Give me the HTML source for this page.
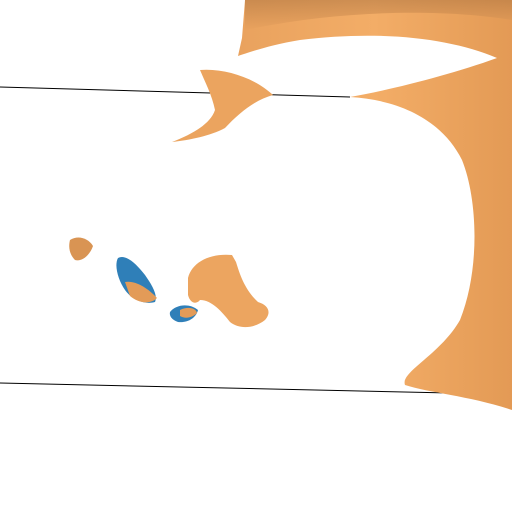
<!DOCTYPE html>
<html><head><meta charset="utf-8"><style>
html,body{margin:0;padding:0;background:#fff;width:512px;height:512px;overflow:hidden}
</style></head><body>
<svg width="512" height="512" viewBox="0 0 512 512">
<defs>
<linearGradient id="g1" x1="0" y1="0" x2="1" y2="0">
<stop offset="0" stop-color="#e9a25e"/><stop offset="0.5" stop-color="#f3ad67"/><stop offset="1" stop-color="#e39a55"/>
</linearGradient>
<linearGradient id="g2" x1="0" y1="0" x2="0" y2="1">
<stop offset="0" stop-color="#b57a44"/><stop offset="1" stop-color="#e9a25e"/>
</linearGradient>
</defs>
<line x1="0" y1="87" x2="350" y2="97" stroke="#000" stroke-width="1"/>
<line x1="0" y1="383" x2="450" y2="393" stroke="#000" stroke-width="1"/>
<path fill="url(#g1)" d="M245,0 L512,0 L512,410 C470,396 430,393 405,385 C400,372 440,355 460,320 C480,270 478,200 462,160 C442,120 400,100 350,97 C390,90 450,75 497,58 C450,38 380,30 300,40 C270,45 250,52 238,56 L242,38 Z"/>
<path fill="url(#g2)" opacity="0.6" d="M245,0 L512,0 L512,20 C450,10 350,8 245,30 Z"/>
<path fill="#eba45f" d="M200,70 C225,68 255,78 273,95 C255,100 240,112 225,128 C210,136 190,140 172,142 C190,135 210,125 215,110 C212,95 205,82 200,70 Z"/>
<path fill="#eca560" d="M188,278 C192,262 210,253 232,255 L236,262 C240,275 245,290 258,302 C268,305 272,312 265,320 C255,328 240,330 230,322 C222,312 212,300 200,300 C196,305 190,303 188,295 Z"/>
<path fill="#d99453" d="M70,240 C78,235 88,238 93,246 C90,255 82,262 75,260 C70,255 68,248 70,240 Z"/>
<path fill="#2f7fb8" d="M118,258 C125,254 135,262 145,275 C152,285 158,295 155,302 C145,305 132,300 125,290 C118,280 114,265 118,258 Z"/>
<path fill="#e39b58" d="M125,282 C135,280 148,288 157,298 C150,305 138,303 130,296 Z"/>
<path fill="#2f7fb8" d="M170,312 C176,304 190,303 198,310 C196,318 188,323 178,322 C172,320 169,316 170,312 Z"/>
<path fill="#e39b58" d="M180,310 C188,306 196,308 197,313 C192,318 185,319 180,316 Z"/>
</svg>
</body></html>
